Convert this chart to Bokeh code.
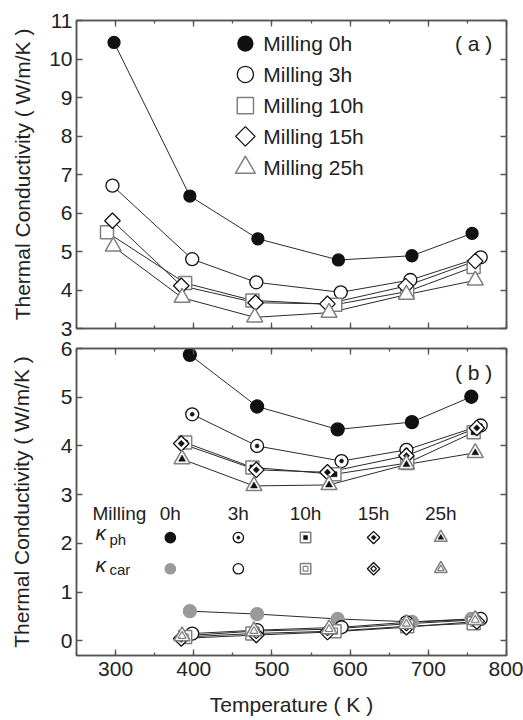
import math
from bokeh.plotting import figure
from bokeh.layouts import column
from bokeh.models import LinearAxis, SingleIntervalTicker, CustomJSTickFormatter
from bokeh.core.properties import value
from bokeh.embed import file_html
from bokeh.resources import INLINE

FONT = "Liberation Sans"

# ---------------- data: panel (a) total thermal conductivity ----------------
series_names = ["Milling 0h", "Milling 3h", "Milling 10h", "Milling 15h", "Milling 25h"]
T_a_0 = [298, 395, 482, 585, 679, 756]
K_a_0 = [10.43, 6.44, 5.33, 4.78, 4.89, 5.47]
T_a_3 = [296, 398, 480, 588, 677, 767]
K_a_3 = [6.71, 4.80, 4.20, 3.94, 4.26, 4.85]
T_a_10 = [289, 389, 475, 581, 673, 758]
K_a_10 = [5.50, 4.18, 3.73, 3.62, 3.96, 4.60]
T_a_15 = [296, 384, 479, 571, 671, 760]
K_a_15 = [5.80, 4.11, 3.67, 3.64, 4.10, 4.75]
T_a_25 = [297, 385, 478, 573, 672, 760]
K_a_25 = [5.13, 3.80, 3.29, 3.41, 3.88, 4.25]

# ---------------- data: panel (b) phonon / carrier parts ----------------
milling_labels = ["0h", "3h", "10h", "15h", "25h"]
T_b_0 = [395, 481, 584, 679, 755]
ph_0 = [5.87, 4.81, 4.34, 4.49, 5.01]
car_0 = [0.61, 0.55, 0.45, 0.39, 0.45]
T_b_3 = [398, 481, 589, 672, 767]
ph_3 = [4.65, 4.00, 3.69, 3.92, 4.42]
car_3 = [0.15, 0.22, 0.28, 0.38, 0.45]
T_b_10 = [389, 475, 580, 673, 758]
ph_10 = [4.07, 3.56, 3.42, 3.65, 4.28]
car_10 = [0.08, 0.15, 0.20, 0.30, 0.36]
T_b_15 = [384, 480, 571, 672, 762]
ph_15 = [4.05, 3.51, 3.46, 3.80, 4.37]
car_15 = [0.05, 0.12, 0.18, 0.28, 0.40]
T_b_25 = [385, 477, 573, 672, 760]
ph_25 = [3.73, 3.18, 3.20, 3.62, 3.86]
car_25 = [0.10, 0.20, 0.24, 0.35, 0.43]

x_ticks_interval = 100
y_label = "Thermal Conductivity ( W/m/K )"
x_label = "Temperature ( K )"

# ---------------- styles ----------------
BLACK = "#111111"
GRAY = "#808080"
LGRAY = "#9a9a9a"
LINE = "#2a2a2a"
FRAME = "#555555"
TXT = "#222222"
DIAMOND = math.pi / 4


def base_fig(y_range, frame_h, top, bottom, show_x_labels, y_standoff):
    p = figure(frame_width=430, frame_height=frame_h, x_range=(250, 800), y_range=y_range,
               output_backend="svg", toolbar_location=None,
               min_border_left=76, min_border_right=17, min_border_top=top, min_border_bottom=bottom)
    p.grid.grid_line_color = None
    p.outline_line_color = FRAME
    p.outline_line_width = 1.5
    p.background_fill_color = "white"
    p.border_fill_color = "white"
    xt = SingleIntervalTicker(interval=x_ticks_interval, num_minor_ticks=2)
    yt = SingleIntervalTicker(interval=1, num_minor_ticks=0)
    blank = CustomJSTickFormatter(code="return ''")
    p.add_layout(LinearAxis(ticker=xt, formatter=blank), "above")
    p.add_layout(LinearAxis(ticker=yt, formatter=blank), "right")
    p.xaxis.ticker = xt
    p.yaxis.ticker = yt
    for ax in p.axis:
        ax.axis_line_color = FRAME
        ax.axis_line_width = 1.5
        ax.major_tick_line_color = FRAME
        ax.minor_tick_line_color = FRAME
        ax.major_tick_line_width = 1.3
        ax.minor_tick_line_width = 1.3
        ax.major_tick_in = 6
        ax.major_tick_out = 0
        ax.minor_tick_in = 3
        ax.minor_tick_out = 0
        ax.major_label_text_font = FONT
        ax.major_label_text_font_size = "21px"
        ax.major_label_text_color = TXT
        ax.axis_label_text_font = FONT
        ax.axis_label_text_font_style = "normal"
        ax.axis_label_text_font_size = "21px"
        ax.axis_label_text_color = TXT
    p.above[0].major_label_standoff = 0
    p.right[0].major_label_standoff = 0
    left = p.left[0]
    left.axis_label = y_label
    left.major_label_standoff = 4
    left.axis_label_standoff = y_standoff
    bot = p.below[0]
    if show_x_labels:
        bot.axis_label = x_label
        bot.major_label_standoff = 6
        bot.axis_label_standoff = 14
    else:
        bot.formatter = CustomJSTickFormatter(code="return ''")
        bot.major_label_standoff = 0
    return p


def txt(p, xs, ys, texts, size, align="left", style="normal", color=TXT):
    p.text(x=xs, y=ys, text=texts, text_font=value(FONT), text_font_size=value(size),
           text_align=align, text_baseline="middle", text_color=color, text_font_style=style)


def mk(p, x, y, marker, size, fill, line, lw=1.3, angle=0.0):
    p.scatter(x=x, y=y, marker=marker, size=size, angle=angle,
              fill_color=fill, line_color=line, line_width=lw)


# ======================= panel (a) =======================
pa = base_fig((3, 11), 308, 20, 10, False, 12)
series_a = [(T_a_0, K_a_0), (T_a_3, K_a_3), (T_a_10, K_a_10), (T_a_15, K_a_15), (T_a_25, K_a_25)]
for xs, ys in series_a:
    pa.line(xs, ys, line_color=LINE, line_width=1)


def marker_a(p, x, y, i, scale=1.0):
    if i == 0:
        mk(p, x, y, "circle", 12 * scale, BLACK, BLACK)
    elif i == 1:
        mk(p, x, y, "circle", 13 * scale, "white", BLACK)
    elif i == 2:
        mk(p, x, y, "square", 13 * scale, "white", GRAY, 1.5)
    elif i == 3:
        mk(p, x, y, "square", 11 * scale, "white", BLACK, 1.3, DIAMOND)
    else:
        mk(p, x, y, "triangle", 16 * scale, "white", GRAY, 1.5)


for i, (xs, ys) in enumerate(series_a):
    marker_a(pa, xs, ys, i)

# legend (a)
leg_a_x = 466
leg_a_text_x = 489
leg_a_y = [10.40, 9.60, 8.79, 7.99, 7.18]
for i, name in enumerate(series_names):
    marker_a(pa, [leg_a_x], [leg_a_y[i]], i, 1.25)
txt(pa, [leg_a_text_x] * 5, leg_a_y, series_names, "21px")
txt(pa, [758], [10.40], ["( a )"], "21px", align="center")

# ======================= panel (b) =======================
pb = base_fig((-0.3, 6), 307, 10, 65, True, 25)
ph_series = [(T_b_0, ph_0), (T_b_3, ph_3), (T_b_10, ph_10), (T_b_15, ph_15), (T_b_25, ph_25)]
car_series = [(T_b_0, car_0), (T_b_3, car_3), (T_b_10, car_10), (T_b_15, car_15), (T_b_25, car_25)]
for xs, ys in ph_series + car_series:
    pb.line(xs, ys, line_color=LINE, line_width=1)


def marker_ph(p, x, y, i, s=1.0):
    if i == 0:
        mk(p, x, y, "circle", 13 * s, BLACK, BLACK)
    elif i == 1:
        mk(p, x, y, "circle", 13 * s, "white", BLACK)
        mk(p, x, y, "circle", 4 * s, BLACK, BLACK, 0.5)
    elif i == 2:
        mk(p, x, y, "square", 13 * s, "white", GRAY, 1.5)
        mk(p, x, y, "square", 5 * s, BLACK, BLACK, 0.5)
    elif i == 3:
        mk(p, x, y, "square", 11 * s, "white", BLACK, 1.3, DIAMOND)
        mk(p, x, y, "square", 4.5 * s, BLACK, BLACK, 0.5, DIAMOND)
    else:
        mk(p, x, y, "triangle", 16 * s, "white", GRAY, 1.5)
        mk(p, x, y, "triangle", 7 * s, BLACK, BLACK, 0.5)


def marker_car(p, x, y, i, s=1.0):
    if i == 0:
        mk(p, x, y, "circle", 13 * s, LGRAY, LGRAY)
    elif i == 1:
        mk(p, x, y, "circle", 13 * s, "white", BLACK)
    elif i == 2:
        mk(p, x, y, "square", 13 * s, "white", GRAY, 1.5)
        mk(p, x, y, "square", 6 * s, "white", GRAY, 1.2)
    elif i == 3:
        mk(p, x, y, "square", 11 * s, "white", BLACK, 1.3, DIAMOND)
        mk(p, x, y, "square", 5 * s, "white", BLACK, 1.2, DIAMOND)
    else:
        mk(p, x, y, "triangle", 16 * s, "white", GRAY, 1.5)
        mk(p, x, y, "triangle", 8 * s, "white", GRAY, 1.2)


for i, (xs, ys) in enumerate(car_series):
    marker_car(pb, xs, ys, i)
for i, (xs, ys) in enumerate(ph_series):
    marker_ph(pb, xs, ys, i)

# legend (b): grid of milling times x {kappa_ph, kappa_car}
leg_b_cols = [370, 457, 543, 630, 716]
leg_b_head_y = 2.61
leg_b_ph_y = 2.12
leg_b_car_y = 1.48
txt(pb, [270.5], [leg_b_head_y], ["Milling"], "19px")
txt(pb, leg_b_cols, [leg_b_head_y] * 5, milling_labels, "19px", align="center")
for i in range(5):
    marker_ph(pb, [leg_b_cols[i]], [leg_b_ph_y], i, 0.8)
    marker_car(pb, [leg_b_cols[i]], [leg_b_car_y], i, 0.8)
txt(pb, [274.3, 274.3], [2.22, 1.56], ["\u03ba", "\u03ba"], "21px", style="italic")
txt(pb, [292.2, 292.2], [2.08, 1.46], ["ph", "car"], "15px")
txt(pb, [758], [5.51], ["( b )"], "21px", align="center")

layout = column(pa, pb, spacing=0)
open("out.html", "w").write(file_html(layout, INLINE))
